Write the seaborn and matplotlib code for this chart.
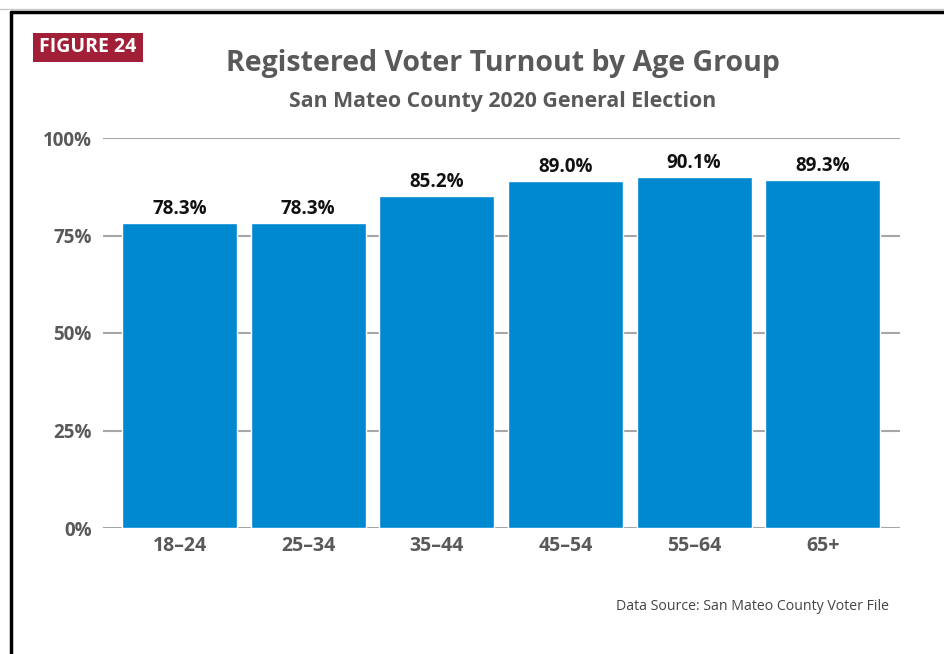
import matplotlib
matplotlib.use("Agg")
import matplotlib.pyplot as plt
import seaborn as sns
import pandas as pd
from matplotlib.lines import Line2D
from matplotlib.patches import Rectangle

categories = ["18–24", "25–34", "35–44", "45–54", "55–64", "65+"]
turnout = [78.3, 78.3, 85.2, 89.0, 90.1, 89.3]
yticks = [0, 25, 50, 75, 100]
ytick_labels = ["0%", "25%", "50%", "75%", "100%"]

sns.set_theme(style="white")
plt.rcParams['font.family'] = ['Open Sans', 'DejaVu Sans']

W, H = 945, 654
fig = plt.figure(figsize=(W / 100, H / 100), dpi=100)
ax = fig.add_axes([103 / W, 1 - 528 / H, (900 - 103) / W, (528 - 138) / H])

df = pd.DataFrame({"age": categories, "turnout": turnout})
sns.barplot(data=df, x="age", y="turnout", color="#0088D1", saturation=1,
            width=0.895, ax=ax, zorder=3)

ax.set_xlim(-0.595, 5.6)
ax.set_ylim(0, 100)
ax.set_yticks(yticks)
ax.set_yticklabels(ytick_labels, fontsize=13.5, fontweight="bold", color="#595959")
ax.tick_params(axis="y", length=0, pad=8)
ax.tick_params(axis="x", length=0, pad=6)
for lab in ax.get_xticklabels():
    lab.set_fontsize(14)
    lab.set_fontweight("bold")
    lab.set_color("#595959")
ax.set_xlabel("")
ax.set_ylabel("")
for s in ax.spines.values():
    s.set_visible(False)
ax.yaxis.grid(True, color="#a6a6a6", linewidth=1.5, zorder=0)
ax.set_axisbelow(True)

for i, v in enumerate(turnout):
    ax.text(i, v + 1.0, f"{v:.1f}%", ha="center", va="bottom",
            fontsize=13.5, fontweight="bold", color="#111111")

fig.text(503 / W, 1 - 63 / H, "Registered Voter Turnout by Age Group",
         ha="center", va="center", fontsize=20.5, fontweight="bold", color="#595959")
fig.text(503 / W, 1 - 102 / H, "San Mateo County 2020 General Election",
         ha="center", va="center", fontsize=15.3, fontweight="bold", color="#595959")

fig.patches.append(Rectangle((33 / W, 1 - 62 / H), 110 / W, 29 / H,
                             transform=fig.transFigure, facecolor="#A21F38",
                             edgecolor="none"))
fig.text(88 / W, 1 - 47.5 / H, "FIGURE 24", ha="center", va="center",
         fontsize=14, fontweight="bold", color="white")

fig.text(889 / W, 1 - 606 / H, "Data Source: San Mateo County Voter File",
         ha="right", va="center", fontsize=10.2, color="#444444")

# frame
fig.lines.append(Line2D([0, 1], [1 - 9 / H, 1 - 9 / H], transform=fig.transFigure,
                        color="#c8c8c8", linewidth=1))
fig.lines.append(Line2D([10.5 / W, 1], [1 - 12 / H, 1 - 12 / H], transform=fig.transFigure,
                        color="black", linewidth=2.5))
fig.lines.append(Line2D([10.5 / W, 10.5 / W], [0, 1 - 12 / H], transform=fig.transFigure,
                        color="black", linewidth=2.5))

fig.savefig("out.png", dpi=100, facecolor="white")
